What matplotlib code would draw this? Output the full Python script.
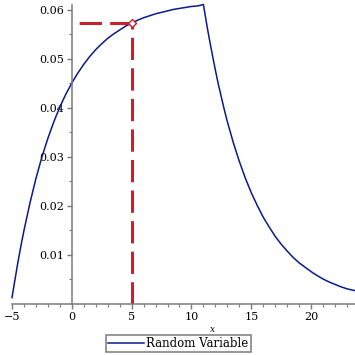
import matplotlib.pyplot as plt

# curve readings (x, density)
xs = [-5, -4.75, -4.5, -4.25, -4, -3.5, -3, -2.5, -2, -1.5, -1, -0.5, 0, 0.5, 1, 1.5, 2, 2.5,
      3, 3.5, 4, 4.5, 5, 5.5, 6, 6.5, 7, 7.5, 8, 8.5, 9, 9.5, 10, 10.5, 11,
      11.25, 11.5, 11.75, 12, 12.25, 12.5, 12.75, 13, 13.5, 14, 14.5, 15, 15.5, 16, 16.5,
      17, 17.5, 18, 18.5, 19, 19.5, 20, 20.5, 21, 21.5, 22, 22.5, 23, 23.7]
ys = [0.0013, 0.0050, 0.0086, 0.0119, 0.0150, 0.0206, 0.0256, 0.0300, 0.0338, 0.0372, 0.0402,
      0.0428, 0.0451, 0.0471, 0.0489, 0.0505, 0.0519, 0.0531, 0.0542, 0.0551, 0.0559, 0.0567,
      0.0573, 0.0579, 0.0584, 0.0588, 0.0592, 0.0595, 0.0598, 0.0601, 0.0603, 0.0605, 0.0607,
      0.0608, 0.0611,
      0.0574, 0.0540, 0.0508, 0.0477, 0.0448, 0.0422, 0.0396, 0.0372, 0.0329, 0.0291, 0.0257,
      0.0227, 0.0201, 0.0177, 0.0157, 0.0138, 0.0122, 0.0108, 0.0095, 0.0084, 0.0075, 0.0066,
      0.0058, 0.0051, 0.0045, 0.0040, 0.0035, 0.0031, 0.0027]

# marked point
px, py = 5, 0.0573

xticks = [-5, 0, 5, 10, 15, 20]
yticks = [0.01, 0.02, 0.03, 0.04, 0.05, 0.06]

plt.rcParams["font.family"] = ["DejaVu Serif"]
fig = plt.figure(figsize=(3.55, 3.55), dpi=100)
ax = fig.add_axes([12 / 355, 51 / 355, 343 / 355, 299 / 355])

ax.plot(xs, ys, color="#0a1a8c", lw=1.1, label="Random Variable", clip_on=False)

red = "#c8202c"
l1, = ax.plot([px, 0], [py, py], color=red, lw=2.2, solid_capstyle="butt")
l2, = ax.plot([px, px], [0, py], color=red, lw=2.2, solid_capstyle="butt")
l1.set_dashes((7.3, 2.7))
l2.set_dashes((7.3, 2.7))
ax.plot([px], [py], marker="D", ms=4, mfc="white", mec=red, mew=1)

ax.set_xlim(-5, 23.67)
ax.set_ylim(0, 0.061)

for s in ["top", "right"]:
    ax.spines[s].set_visible(False)
ax.spines["left"].set_position(("data", 0))
ax.spines["bottom"].set_position(("data", 0))
for s in ["left", "bottom"]:
    ax.spines[s].set_color("#7a7a7a")
    ax.spines[s].set_linewidth(1.1)

ax.set_xticks(xticks)
ax.set_xticklabels(["\u22125", "0", "5", "10", "15", "20"])
ax.set_yticks(yticks)
ax.set_yticklabels(["0.01", "0.02", "0.03", "0.04", "0.05", "0.06"])
ax.set_xticks(range(-5, 24), minor=True)
ax.set_yticks([0.005, 0.015, 0.025, 0.035, 0.045, 0.055], minor=True)
ax.tick_params(which="major", direction="out", length=3.5, width=1, color="#7a7a7a",
               labelsize=8, pad=2)
ax.tick_params(which="minor", direction="out", length=2, width=0.8, color="#7a7a7a")

fig.text(213 / 355, 1 - 329 / 355, "x", fontsize=6.5, style="italic", ha="center", va="center")

leg = fig.legend(loc="center", bbox_to_anchor=(178.5 / 355, 1 - 343.5 / 355), fontsize=8.5,
                 fancybox=False, edgecolor="#7a7a7a", framealpha=1, handlelength=3.0,
                 borderpad=0.2, handletextpad=0.2, borderaxespad=0)
leg.get_frame().set_linewidth(1.1)

fig.savefig("out.png", dpi=100)
